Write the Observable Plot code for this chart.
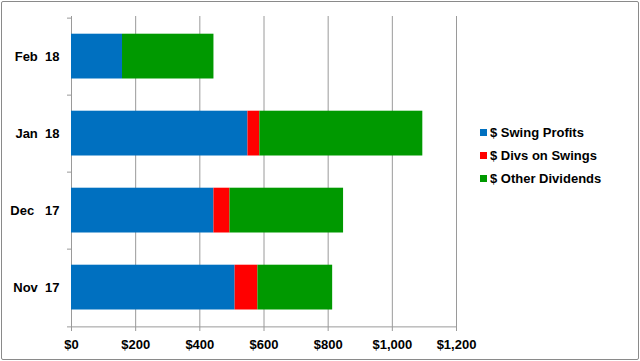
<!DOCTYPE html>
<html><head><meta charset="utf-8">
<script src="https://cdn.jsdelivr.net/npm/d3@7"></script>
<script src="https://cdn.jsdelivr.net/npm/@observablehq/plot@0.6"></script>
<style>
body{margin:0;background:#fff;}
#wrap{position:relative;width:640px;height:361px;font-family:"Liberation Sans",Arial,sans-serif;overflow:hidden;}
#border{position:absolute;left:1px;top:1px;width:636px;height:357px;border:1px solid #8a8a8a;border-radius:2px;pointer-events:none;}
#legend{position:absolute;left:480px;top:121px;font:bold 13px "Liberation Sans",Arial,sans-serif;color:#000;}
.item{display:flex;align-items:center;height:23px;white-space:pre;}
.sw{width:7px;height:7px;margin-right:3px;}
#wrap svg text{white-space:pre;}
</style></head>
<body>
<div id="wrap"><div id="border"></div><div id="legend"></div></div>
<script>
const months = ["Feb  18", "Jan  18", "Dec   17", "Nov  17"];
const swingProfits = [159, 550, 444, 510];
const divsOnSwings = [0, 37, 50, 71];
const otherDividends = [285, 508, 354, 233];
const seriesNames = ["$ Swing Profits", "$ Divs on Swings", "$ Other Dividends"];
const seriesColors = ["#0070C0", "#FF0000", "#009900"];
const xTicks = [0, 200, 400, 600, 800, 1000, 1200];

const seriesValues = [swingProfits, divsOnSwings, otherDividends];
const data = [];
seriesNames.forEach((s, si) => months.forEach((m, mi) => data.push({month: m, series: s, value: seriesValues[si][mi]})));

const W = 640, H = 361, mL = 71, mR = 184, mT = 16, mB = 34;
const step = (H - mT - mB) / months.length;
const grid = "#9a9a9a";

const chart = Plot.plot({
  width: W, height: H,
  marginLeft: mL, marginRight: mR, marginTop: mT, marginBottom: mB,
  style: {fontFamily: '"Liberation Sans", Arial, sans-serif', fontSize: "13px", fontWeight: "bold", color: "#000", background: "transparent"},
  x: {domain: [0, 1200]},
  y: {domain: months, padding: 0},
  color: {domain: seriesNames, range: seriesColors},
  marks: [
    Plot.ruleX(xTicks, {stroke: grid, strokeOpacity: 1}),
    Plot.axisX({ticks: xTicks, tickFormat: d => "$" + d3.format(",")(d), tickSize: 4, tickPadding: 8, stroke: grid, strokeOpacity: 1, label: null}),
    Plot.ruleY([0], {y: () => months[months.length - 1], dy: step / 2, stroke: grid}),
    Plot.axisY({tickSize: 0, tickPadding: 12, label: null}),
    Plot.ruleY(months, {y: d => d, dy: -step / 2, x1: 0, x2: 0, insetLeft: -4, stroke: grid}),
    Plot.ruleY([0], {y: () => months[months.length - 1], dy: step / 2, x1: 0, x2: 0, insetLeft: -4, stroke: grid}),
    Plot.barX(data, Plot.stackX({x: "value", y: "month", fill: "series", order: seriesNames, insetTop: 15.7, insetBottom: 16.5}))
  ]
});
const wrap = document.getElementById("wrap");
wrap.insertBefore(chart, wrap.firstChild);

const legend = document.getElementById("legend");
seriesNames.forEach((s, i) => {
  const it = document.createElement("div"); it.className = "item";
  const sw = document.createElement("span"); sw.className = "sw"; sw.style.background = seriesColors[i];
  const t = document.createElement("span"); t.textContent = s;
  it.appendChild(sw); it.appendChild(t); legend.appendChild(it);
});
</script>
</body></html>
